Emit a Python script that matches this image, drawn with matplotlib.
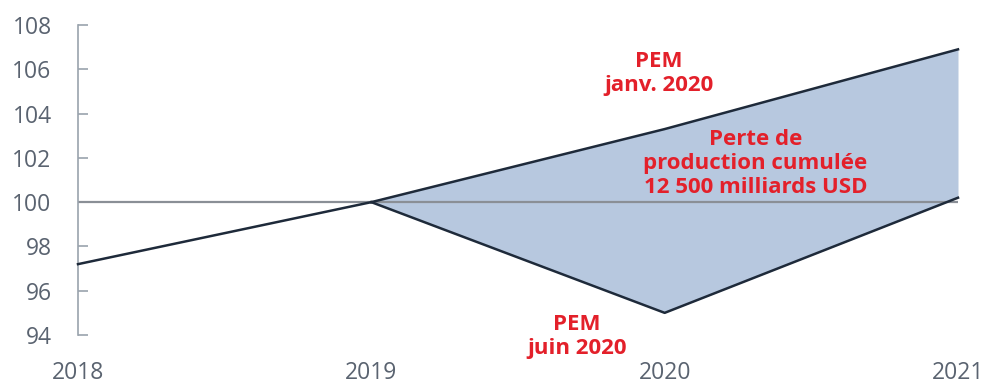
import matplotlib
matplotlib.use("Agg")
import matplotlib.pyplot as plt

years = [2018, 2019, 2020, 2021]
baseline_years = [2018, 2019]
baseline_values = [97.2, 100.0]
jan_years = [2019, 2020, 2021]
jan_values = [100.0, 103.3, 106.9]
jun_years = [2019, 2020, 2021]
jun_values = [100.0, 95.0, 100.2]
yticks = [94, 96, 98, 100, 102, 104, 106, 108]

plt.rcParams['font.family'] = ['Open Sans', 'DejaVu Sans']

fig = plt.figure(figsize=(9.84, 3.86), dpi=100)
ax = fig.add_axes([78/984, 51/386, 880/984, 310/386])

line_col = '#1e2a3a'
fill_col = '#b7c8df'
red = '#e3202a'
txt_col = '#5a6370'

ax.fill_between(jan_years, jun_values, jan_values, color=fill_col, lw=0, zorder=1)
ax.plot([2021, 2021], [jun_values[-1], jan_values[-1]], color=fill_col, lw=1, zorder=1)
ax.axhline(100, color='#8a8f96', lw=1.6, zorder=2)
ax.plot(baseline_years, baseline_values, color=line_col, lw=1.8, zorder=3, clip_on=False)
ax.plot(jan_years, jan_values, color=line_col, lw=1.8, zorder=3, clip_on=False)
ax.plot(jun_years, jun_values, color=line_col, lw=1.8, zorder=3, clip_on=False)

ax.set_xlim(2018, 2021)
ax.set_ylim(94, 108)
ax.set_yticks(yticks)
ax.set_xticks(years)
ax.set_xticklabels([str(y) for y in years])
for s in ['top', 'right', 'bottom']:
    ax.spines[s].set_visible(False)
ax.spines['left'].set_color('#9aa3ad')
ax.spines['left'].set_linewidth(1.2)
ax.tick_params(axis='y', direction='in', length=7, width=1.2, color='#9aa3ad',
               labelsize=16.5, labelcolor=txt_col, pad=19)
ax.tick_params(axis='x', length=0, labelsize=16.5, labelcolor=txt_col, pad=19)

fs = 16
ax.text(2019.98, 105.8, 'PEM\njanv. 2020', color=red, fontsize=fs, fontweight='bold',
        ha='center', va='center', linespacing=1.2)
ax.text(2020.31, 101.75, 'Perte de\nproduction cumulée\n12 500 milliards USD', color=red,
        fontsize=fs, fontweight='bold', ha='center', va='center', linespacing=1.2)
ax.text(2019.70, 93.94, 'PEM\njuin 2020', color=red, fontsize=fs, fontweight='bold',
        ha='center', va='center', linespacing=1.2)

fig.savefig('out.png', dpi=100)
